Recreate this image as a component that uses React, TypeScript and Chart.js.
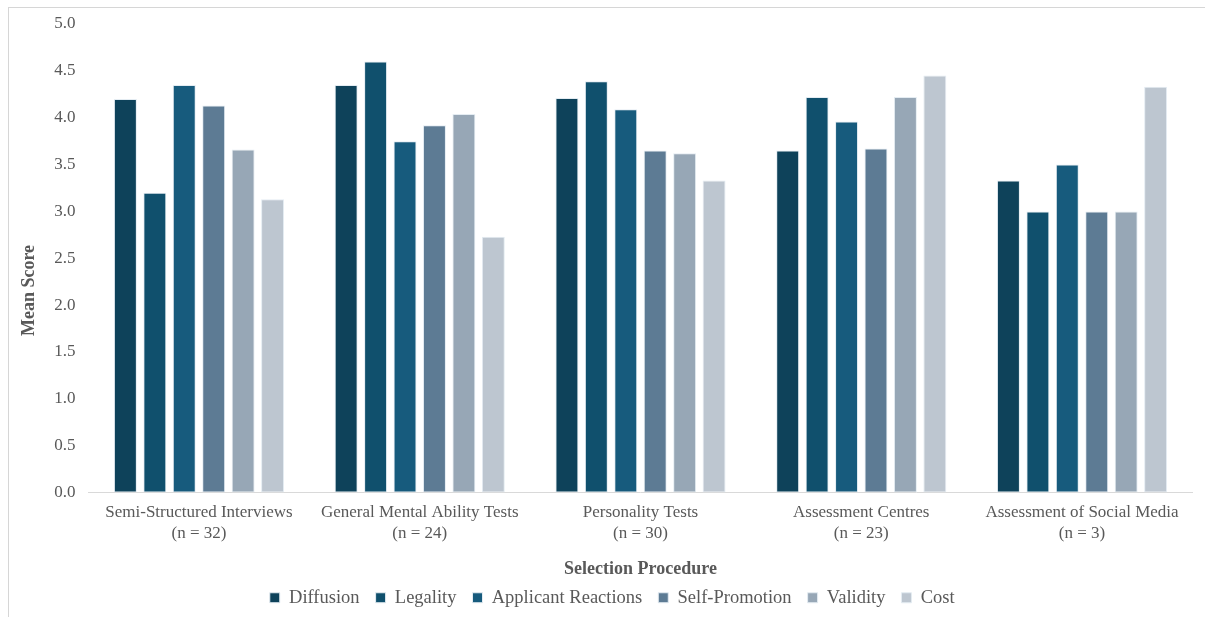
import React, { useEffect, useRef } from "react";
import { Chart, registerables } from "chart.js";

Chart.register(...registerables);

const categories: string[][] = [
  ["Semi-Structured Interviews", "(n = 32)"],
  ["General Mental Ability Tests", "(n = 24)"],
  ["Personality Tests", "(n = 30)"],
  ["Assessment Centres", "(n = 23)"],
  ["Assessment of Social Media", "(n = 3)"],
];

const seriesNames = ["Diffusion", "Legality", "Applicant Reactions", "Self-Promotion", "Validity", "Cost"];

const diffusion = [4.2, 4.35, 4.21, 3.65, 3.33];
const legality = [3.2, 4.6, 4.39, 4.22, 3.0];
const applicantReactions = [4.35, 3.75, 4.09, 3.96, 3.5];
const selfPromotion = [4.13, 3.92, 3.65, 3.67, 3.0];
const validity = [3.66, 4.04, 3.62, 4.22, 3.0];
const cost = [3.13, 2.73, 3.33, 4.45, 4.33];

const seriesColors = ["#0e425a", "#10506d", "#175b7d", "#5d7b94", "#97a7b6", "#bdc6d0"];

const yTicks = [0, 0.5, 1, 1.5, 2, 2.5, 3, 3.5, 4, 4.5, 5];

const FONT = "'Liberation Serif', 'Times New Roman', serif";
const TEXT = "#595959";

const titlesPlugin = {
  id: "axisTitles",
  afterDraw(chart: any) {
    const { ctx, chartArea } = chart;
    ctx.save();
    ctx.fillStyle = TEXT;
    ctx.font = `bold 18px ${FONT}`;
    ctx.textAlign = "center";
    ctx.textBaseline = "middle";
    ctx.fillText("Selection Procedure", (chartArea.left + chartArea.right) / 2, chartArea.bottom + 77);
    ctx.translate(29, chartArea.bottom - 202);
    ctx.rotate(-Math.PI / 2);
    ctx.fillText("Mean Score", 0, 0);
    ctx.restore();
  },
};

export default function App() {
  const ref = useRef<HTMLCanvasElement | null>(null);

  useEffect(() => {
    if (!ref.current) return;
    const values = [diffusion, legality, applicantReactions, selfPromotion, validity, cost];
    const chart = new Chart(ref.current, {
      type: "bar",
      data: {
        labels: categories,
        datasets: seriesNames.map((name, i) => ({
          label: name,
          data: values[i],
          backgroundColor: seriesColors[i],
          borderColor: "#e4ecf2",
          borderWidth: 1,
          borderSkipped: false,
          categoryPercentage: 0.8,
          barPercentage: 0.78,
        })),
      },
      options: {
        animation: false,
        responsive: true,
        maintainAspectRatio: false,
        layout: { padding: { left: 32, right: 12.6, top: 24, bottom: 0 } },
        plugins: {
          tooltip: { enabled: false },
          legend: {
            position: "bottom",
            labels: {
              boxWidth: 10,
              boxHeight: 10,
              padding: 16,
              color: TEXT,
              font: { family: FONT, size: 18.5 },
            },
          },
        },
        scales: {
          x: {
            grid: { display: false },
            border: { display: true, color: "#d9d9d9", width: 1 },
            ticks: {
              color: TEXT,
              font: { family: FONT, size: 17, lineHeight: 1.2 },
              padding: 2,
              maxRotation: 0,
              autoSkip: false,
            },
            afterFit(scale: any) {
              scale.height = 80;
            },
          },
          y: {
            min: 0,
            max: 5,
            grid: { display: false },
            border: { display: false },
            afterBuildTicks(scale: any) {
              scale.ticks = yTicks.map((v) => ({ value: v }));
            },
            ticks: {
              color: TEXT,
              font: { family: FONT, size: 17 },
              padding: 5,
              callback: (v: any) => Number(v).toFixed(1),
            },
            afterFit(scale: any) {
              scale.width = 56.6;
            },
          },
        },
      },
      plugins: [titlesPlugin],
    });
    return () => chart.destroy();
  }, []);

  return (
    <div style={{ position: "fixed", left: 0, top: 0, width: 1205, height: 617, overflow: "hidden", background: "#fff" }}>
      <div
        style={{
          position: "absolute",
          left: 8,
          top: 7,
          width: 1300,
          height: 700,
          border: "1px solid #d6d6d6",
          boxSizing: "border-box",
        }}
      />
      <div style={{ position: "absolute", left: 0, top: 0, width: 1205, height: 617 }}>
        <canvas ref={ref} />
      </div>
    </div>
  );
}
